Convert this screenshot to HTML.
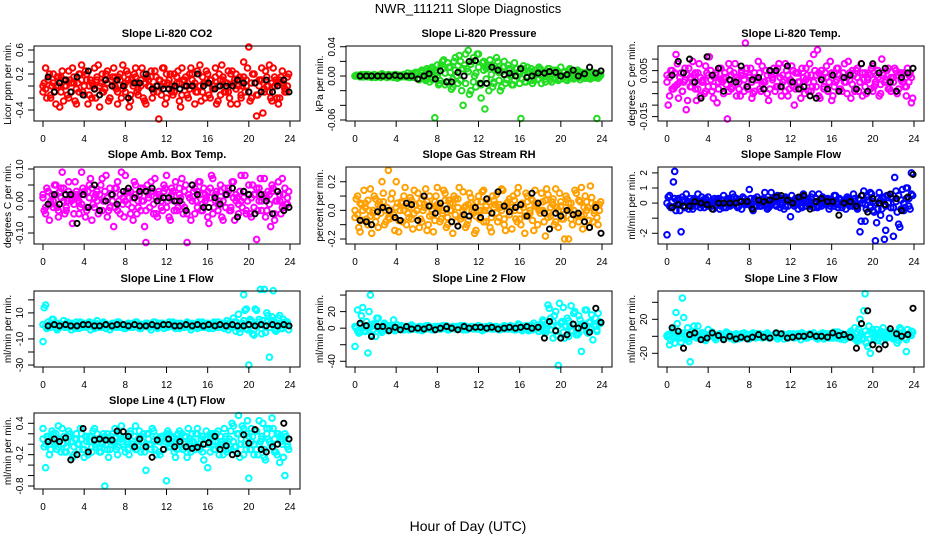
<!DOCTYPE html>
<html><head><meta charset="utf-8"><style>
body{margin:0;background:#fff;}
svg{display:block;font-family:"Liberation Sans",sans-serif;}
</style></head><body>
<svg id="chart" width="936" height="540" viewBox="0 0 936 540">
<rect width="936" height="540" fill="#fff"/>
<text x="468" y="13" text-anchor="middle" font-size="13">NWR_111211  Slope Diagnostics</text>
<text x="468" y="531" text-anchor="middle" font-size="14">Hour of Day (UTC)</text>
</svg>
<script>
const hours = [0,0.25,0.5,0.75,1,1.25,1.5,1.75,2,2.25,2.5,2.75,3,3.25,3.5,3.75,4,4.25,4.5,4.75,5,5.25,5.5,5.75,6,6.25,6.5,6.75,7,7.25,7.5,7.75,8,8.25,8.5,8.75,9,9.25,9.5,9.75,10,10.25,10.5,10.75,11,11.25,11.5,11.75,12,12.25,12.5,12.75,13,13.25,13.5,13.75,14,14.25,14.5,14.75,15,15.25,15.5,15.75,16,16.25,16.5,16.75,17,17.25,17.5,17.75,18,18.25,18.5,18.75,19,19.25,19.5,19.75,20,20.25,20.5,20.75,21,21.25,21.5,21.75,22,22.25,22.5,22.75,23,23.25,23.5,23.75];
const hoursB = [0.12,0.37,0.62,0.87,1.12,1.37,1.62,1.87,2.12,2.37,2.62,2.87,3.12,3.37,3.62,3.87,4.12,4.37,4.62,4.87,5.12,5.37,5.62,5.87,6.12,6.37,6.62,6.87,7.12,7.37,7.62,7.87,8.12,8.37,8.62,8.87,9.12,9.37,9.62,9.87,10.12,10.37,10.62,10.87,11.12,11.37,11.62,11.87,12.12,12.37,12.62,12.87,13.12,13.37,13.62,13.87,14.12,14.37,14.62,14.87,15.12,15.37,15.62,15.87,16.12,16.37,16.62,16.87,17.12,17.37,17.62,17.87,18.12,18.37,18.62,18.87,19.12,19.37,19.62,19.87,20.12,20.37,20.62,20.87,21.12,21.37,21.62,21.87,22.12,22.37,22.62,22.87,23.12,23.37,23.62,23.87];
const refHours = [0.5,1.1,1.6,2.2,2.7,3.3,3.9,4.4,5.0,5.5,6.1,6.7,7.2,7.8,8.3,8.9,9.4,10.0,10.6,11.1,11.7,12.2,12.8,13.3,13.9,14.5,15.0,15.6,16.1,16.7,17.2,17.8,18.4,18.9,19.5,20.0,20.6,21.2,21.7,22.3,22.8,23.4,23.9];
const xTicks = [0,4,8,12,16,20,24];

const co2A = [-0.1,0.3,0.1,-0.2,0.2,-0.3,0.0,0.15,-0.25,0.1,0.25,-0.1,0.05,-0.3,0.2,0.35,-0.15,0.1,0.0,-0.2,0.3,0.1,-0.35,0.2,-0.05,0.25,-0.2,0.0,0.15,-0.3,0.1,0.35,-0.1,0.2,-0.25,0.05,0.3,-0.15,0.0,0.2,-0.3,0.1,0.25,-0.05,0.15,-0.55,0.0,0.3,-0.2,0.1,-0.1,0.2,0.05,-0.25,0.3,0.0,-0.15,0.2,0.1,-0.3,0.25,0.35,-0.1,0.05,0.2,-0.2,0.0,0.3,-0.25,0.1,0.15,-0.1,0.25,-0.3,0.05,0.2,0.0,-0.15,0.4,0.1,0.65,-0.2,0.2,-0.5,0.1,0.3,-0.1,0.0,0.35,-0.25,0.15,0.05,-0.2,0.25,-0.1,0.0];
const co2B = [0.05,-0.2,0.2,0.0,-0.1,0.15,-0.35,0.25,0.0,-0.15,0.1,0.3,-0.25,0.05,0.2,-0.1,0.25,-0.3,0.1,0.0,-0.2,0.35,0.05,-0.1,0.2,-0.25,0.1,0.3,-0.05,0.15,-0.2,0.0,0.25,-0.35,0.1,0.2,-0.1,0.05,0.3,-0.25,0.15,0.0,-0.2,0.25,-0.1,0.1,0.3,-0.3,0.05,0.2,-0.15,0.0,0.25,-0.35,0.1,0.15,-0.2,0.3,0.0,-0.1,0.2,-0.25,0.05,0.25,-0.15,0.1,0.0,-0.3,0.2,0.35,-0.1,0.05,-0.2,0.25,0.1,-0.3,0.15,0.0,-0.1,0.3,-0.25,0.2,0.05,-0.15,0.1,-0.45,0.25,0.0,-0.2,0.3,0.1,-0.3,0.15,0.0,-0.1,0.2];
const co2C = [0.0,-0.05,0.1,-0.15,0.05,0.0,0.15,-0.1,0.1,0.0,-0.2,0.05,0.15,-0.05,-0.1,0.1,0.0,0.2,-0.15,0.05,-0.05,0.15,0.0,-0.1,0.1,0.05,-0.2,0.15,0.0,-0.1,0.2,-0.05,0.05,0.1,-0.15,0.0,0.15,-0.05,0.1,-0.2,0.05,0.0,0.15,-0.1,0.0,0.1,-0.15,0.05,0.2,-0.05,0.0,-0.1,0.15,0.05,-0.15,0.1,0.0,-0.05,0.2,0.05,-0.1,0.0,0.15,-0.2,0.05,0.1,-0.05,0.15,0.0,-0.15,0.1,0.05,-0.1,0.2,0.0,-0.05,0.1,-0.2,0.15,0.0,-0.1,0.05,0.2,-0.15,0.0,0.1,-0.05,0.15,-0.1,0.05,0.0,-0.2,0.1,0.05,-0.05,0.15];
const co2Ref = [0.15,-0.1,0.05,0.1,-0.1,0.15,-0.15,0.25,-0.05,-0.15,0.1,0.0,0.1,0.0,-0.2,0.05,0.05,0.2,-0.05,0.0,-0.05,-0.05,0.0,-0.05,0.0,0.0,0.2,0.0,0.05,-0.05,0.0,0.0,0.0,0.1,0.05,-0.1,0.05,-0.1,0.1,-0.1,0.0,0.1,-0.1];

const presA = [0.0,0.001,-0.001,0.0,0.002,-0.001,0.001,0.0,-0.002,0.001,0.0,0.002,-0.001,0.0,0.001,-0.002,0.002,0.0,-0.001,0.001,0.0,-0.002,0.003,0.0,0.005,-0.005,0.008,-0.003,0.01,-0.008,0.012,-0.057,0.015,-0.01,0.02,-0.012,0.018,0.005,-0.015,0.025,-0.01,0.02,-0.04,0.03,0.035,-0.02,0.025,-0.015,0.03,-0.03,0.02,0.01,-0.02,0.015,-0.01,0.025,0.005,-0.015,0.02,-0.005,0.01,-0.012,0.018,0.0,-0.01,0.01,-0.008,0.012,0.005,-0.01,0.008,-0.005,0.01,0.0,-0.008,0.01,-0.005,0.008,0.002,-0.006,0.012,0.0,-0.005,0.008,0.003,-0.004,0.006,-0.002,0.005,0.0,-0.003,0.004,0.002,-0.002,-0.058,0.003];
const presB = [0.001,0.0,0.002,-0.001,0.0,0.001,-0.002,0.002,0.0,-0.001,0.003,0.0,-0.002,0.001,0.0,0.002,-0.003,0.001,0.0,-0.001,0.004,-0.002,0.0,0.005,-0.004,0.006,0.0,-0.006,0.008,-0.002,0.01,0.004,-0.012,0.015,0.022,-0.008,0.012,-0.018,0.02,0.0,0.028,-0.02,0.015,0.01,-0.025,0.02,0.0,0.03,-0.01,0.018,-0.045,0.012,0.022,-0.015,0.008,0.02,-0.02,0.012,-0.01,0.015,0.0,-0.012,0.01,0.005,-0.058,0.014,-0.008,0.006,0.01,-0.006,0.004,0.012,-0.01,0.006,0.0,0.01,-0.008,0.004,0.008,-0.004,0.0,0.006,-0.006,0.01,0.002,-0.003,0.008,-0.005,0.004,0.002,0.0,-0.004,0.005,0.002,-0.003,0.001];
const presC = [0.0,0.0,0.001,-0.001,0.0,0.002,0.0,-0.001,0.001,0.0,-0.002,0.001,0.0,0.002,-0.001,0.0,0.001,-0.002,0.0,0.002,-0.001,0.0,0.003,-0.002,0.002,-0.003,0.004,0.0,-0.004,0.006,-0.005,0.008,0.0,-0.006,0.01,0.004,-0.008,0.012,-0.004,0.008,0.014,-0.006,0.01,-0.01,0.006,0.016,-0.008,0.004,0.012,-0.012,0.008,-0.004,0.014,0.002,-0.008,0.01,-0.006,0.006,0.012,-0.004,0.008,0.002,-0.006,0.01,0.004,-0.004,0.008,0.0,-0.006,0.006,0.002,-0.004,0.008,0.002,-0.004,0.006,0.0,-0.003,0.006,0.002,-0.004,0.005,0.0,-0.003,0.006,0.001,-0.002,0.004,0.0,-0.003,0.005,0.001,-0.002,0.004,0.0,-0.001];
const presRef = [0.0,0.0,0.0,0.0,0.0,0.0,0.001,0.0,0.0,0.0,-0.004,0.0,0.003,-0.004,0.007,-0.008,-0.008,0.005,0.0,0.02,0.021,-0.01,-0.01,0.012,0.008,0.002,0.004,0.0,0.01,-0.002,0.0,0.004,0.004,0.006,0.005,0.0,0.002,0.008,0.0,0.003,0.012,0.004,0.007];

const tempA = [0.003,-0.006,0.005,-0.002,0.008,0.0,-0.004,0.006,-0.008,0.002,0.009,-0.003,0.004,-0.006,0.001,0.007,-0.002,0.005,-0.007,0.003,0.0,0.006,-0.005,0.002,0.008,-0.003,0.004,-0.006,0.0,0.005,-0.004,0.006,0.002,-0.007,0.004,0.001,-0.003,0.007,0.0,-0.005,0.005,0.002,-0.004,0.006,-0.002,0.003,0.008,-0.006,0.0,0.005,-0.003,0.004,-0.007,0.002,0.006,0.0,-0.004,0.012,0.003,-0.006,0.005,-0.002,0.007,0.0,-0.008,0.004,0.006,-0.003,0.002,0.008,-0.005,0.001,0.005,-0.004,0.006,0.0,-0.006,0.004,0.002,-0.003,0.007,-0.001,0.005,-0.005,0.003,0.0,0.006,-0.004,0.002,0.005,-0.003,0.004,0.0,-0.006,0.003,-0.009];
const tempB = [-0.01,0.005,-0.003,0.012,-0.007,0.004,0.0,-0.012,0.006,-0.002,0.003,-0.008,0.008,0.0,-0.005,0.004,0.011,-0.004,0.002,-0.009,0.006,0.0,0.004,-0.016,0.005,-0.002,0.008,0.001,-0.006,0.003,0.017,-0.003,0.006,-0.005,0.002,0.009,-0.004,0.0,0.005,-0.008,0.003,0.006,-0.002,0.008,-0.006,0.001,0.005,-0.003,0.007,-0.01,0.004,0.0,0.006,-0.005,0.003,0.008,-0.002,0.005,0.014,-0.007,0.002,0.004,-0.004,0.009,-0.006,0.0,0.006,-0.003,0.004,0.0,0.009,-0.007,0.003,0.005,-0.004,0.008,0.001,-0.005,0.004,0.006,-0.002,0.003,-0.006,0.01,0.0,0.005,-0.003,0.002,0.006,-0.005,0.004,0.0,-0.002,0.006,0.004,-0.007];
const tempC = [0.0,0.002,-0.003,0.004,-0.001,0.002,-0.004,0.001,0.003,-0.002,0.0,0.004,-0.003,0.002,0.0,-0.004,0.003,0.001,-0.002,0.004,-0.003,0.001,0.002,-0.001,-0.004,0.003,0.0,0.002,-0.003,0.004,0.001,-0.002,0.003,0.0,-0.004,0.002,0.004,-0.001,0.0,0.003,-0.003,0.001,0.004,-0.002,0.002,0.0,-0.004,0.003,0.001,-0.002,0.004,0.0,-0.003,0.002,0.001,-0.004,0.003,0.0,-0.002,0.004,0.001,-0.003,0.002,0.0,0.004,-0.002,0.001,0.003,-0.004,0.0,0.002,0.004,-0.001,-0.003,0.002,0.0,0.004,-0.002,0.001,0.003,-0.004,0.0,0.002,-0.001,0.004,0.001,-0.003,0.002,0.0,-0.004,0.003,0.001,0.004,-0.002,0.0,0.002];
const tempRef = [0.003,0.009,0.004,0.01,0.0,-0.007,0.011,0.003,0.006,-0.004,0.001,0.0,0.007,-0.002,0.001,0.002,-0.003,0.005,0.005,-0.002,0.007,0.0,-0.003,-0.002,-0.006,-0.007,0.001,-0.003,0.003,-0.004,0.002,0.003,-0.003,0.008,-0.004,0.008,0.004,0.006,0.0,-0.004,0.002,0.004,0.006];

const ambA = [0.02,-0.04,0.03,0.0,-0.02,0.05,-0.05,0.01,0.04,-0.03,0.06,0.0,-0.01,0.03,-0.04,0.09,0.02,-0.02,0.05,-0.06,0.01,0.03,-0.03,0.07,0.0,-0.05,0.04,0.02,-0.02,0.06,-0.04,0.01,0.08,-0.01,0.03,-0.06,0.05,0.0,-0.03,0.04,-0.13,0.02,0.06,-0.04,0.01,0.03,-0.02,0.05,0.08,-0.05,0.02,0.0,-0.03,0.04,0.07,-0.02,-0.13,0.01,0.05,-0.04,0.03,0.06,-0.01,0.02,-0.05,0.04,0.07,0.0,-0.03,0.05,-0.06,0.02,0.03,-0.02,0.06,0.0,-0.04,0.08,0.01,-0.03,0.05,-0.05,0.02,-0.12,0.04,0.0,0.07,-0.03,0.02,0.05,-0.06,0.03,0.0,0.07,-0.02,0.01];
const ambB = [-0.03,0.04,-0.06,0.02,0.05,-0.02,0.03,0.09,-0.04,0.0,0.02,-0.07,0.06,0.01,-0.02,0.04,-0.05,0.03,0.07,-0.01,0.02,-0.04,0.05,0.0,0.08,-0.03,0.02,-0.08,0.04,0.0,0.09,-0.05,0.03,0.01,-0.02,0.06,-0.04,0.02,0.0,-0.08,0.05,-0.02,0.03,0.07,-0.05,0.01,-0.03,0.04,0.0,-0.06,0.03,0.06,-0.02,0.01,-0.04,0.05,0.02,-0.06,0.03,0.0,0.06,-0.03,0.04,0.01,-0.07,0.08,-0.02,0.03,0.0,-0.05,0.04,0.02,-0.03,0.06,-0.06,0.01,0.03,-0.02,0.08,0.0,-0.04,0.05,0.02,-0.03,0.07,0.01,-0.05,0.03,-0.08,0.04,0.0,0.06,-0.04,0.02,-0.01,0.03];
const ambC = [0.01,-0.02,0.03,-0.01,0.0,0.02,-0.03,0.04,0.0,-0.02,0.03,0.01,-0.04,0.02,0.0,-0.01,0.03,-0.03,0.01,0.04,-0.02,0.0,0.02,-0.03,0.03,0.01,-0.02,0.0,0.04,-0.03,0.02,-0.01,0.0,0.03,-0.04,0.01,0.02,-0.02,0.04,0.0,-0.03,0.01,0.03,-0.01,-0.04,0.02,0.0,0.03,-0.02,0.01,0.04,-0.03,0.0,0.02,-0.01,0.03,-0.04,0.01,0.0,0.04,-0.02,0.02,-0.03,0.0,0.03,0.01,-0.04,0.02,-0.01,0.03,0.0,-0.02,0.04,-0.03,0.01,0.02,-0.01,0.0,0.03,-0.04,0.02,0.01,-0.02,0.04,0.0,-0.03,0.02,0.01,-0.01,0.03,-0.04,0.0,0.02,-0.02,0.04,-0.01];
const ambRef = [-0.01,0.02,-0.01,0.02,0.02,-0.07,0.02,-0.02,0.05,-0.03,0.0,0.02,-0.01,0.03,0.04,0.01,0.03,0.03,0.04,0.0,0.01,0.01,0.0,0.0,-0.03,0.05,0.02,-0.02,-0.02,0.01,-0.01,0.02,0.04,-0.05,0.03,0.02,-0.04,0.02,0.0,-0.04,0.03,-0.03,-0.02];

const rhA = [-0.05,0.1,-0.15,0.0,0.05,-0.1,0.15,-0.02,0.08,-0.12,0.03,0.12,-0.08,0.28,0.0,-0.05,0.2,-0.15,0.06,0.1,-0.1,0.02,-0.06,0.14,0.0,-0.12,0.08,0.04,-0.14,0.1,-0.03,0.06,0.16,-0.08,0.0,0.12,-0.1,0.05,-0.16,0.08,0.02,-0.06,0.13,-0.12,0.04,0.09,-0.02,-0.14,0.1,0.0,0.14,-0.08,0.06,-0.15,0.02,0.11,-0.05,0.15,-0.1,0.03,0.08,-0.13,0.0,0.12,-0.06,0.05,-0.16,0.1,-0.02,0.07,0.14,-0.1,0.0,0.06,-0.18,0.11,-0.04,0.08,0.15,-0.12,0.03,-0.06,0.1,-0.2,0.05,0.0,0.12,-0.08,0.16,-0.03,0.06,-0.12,0.09,0.0,-0.05,0.04];
const rhB = [0.08,-0.12,0.04,0.14,-0.06,0.0,-0.16,0.1,-0.04,0.06,0.2,-0.1,0.02,-0.06,0.12,-0.14,0.05,0.0,-0.08,0.16,-0.02,0.09,-0.13,0.04,0.12,-0.06,0.0,0.15,-0.1,0.03,-0.15,0.1,0.02,-0.06,0.14,-0.12,0.07,0.0,0.1,-0.08,0.16,-0.04,0.02,-0.1,0.12,0.0,-0.16,0.06,-0.06,0.13,0.0,0.08,-0.12,0.1,0.04,-0.08,0.02,0.14,-0.14,0.06,0.0,0.1,-0.06,0.16,-0.1,0.02,0.12,-0.04,0.08,-0.14,0.04,0.0,0.12,-0.08,0.15,-0.02,0.06,-0.1,0.02,0.12,-0.06,-0.2,0.08,0.0,-0.1,0.14,-0.04,0.06,-0.13,0.1,0.02,0.17,-0.08,0.04,-0.1,0.06];
const rhC = [0.0,-0.03,0.05,-0.07,0.02,0.07,-0.04,0.0,-0.08,0.04,-0.02,0.06,0.0,-0.05,0.08,-0.03,0.02,-0.07,0.05,0.0,0.03,-0.05,0.07,-0.02,0.0,0.05,-0.08,0.02,0.06,-0.04,0.0,-0.07,0.04,0.03,-0.02,0.07,-0.05,0.0,0.05,-0.03,0.08,-0.06,0.0,0.03,-0.07,0.05,0.02,-0.04,0.0,0.06,-0.08,0.03,0.0,-0.05,0.07,-0.02,0.04,0.0,-0.06,0.05,-0.03,0.02,0.07,-0.08,0.0,0.04,-0.04,0.06,0.0,-0.07,0.03,0.05,-0.02,0.0,0.07,-0.05,0.02,0.04,-0.08,0.0,0.06,-0.03,0.02,0.05,-0.06,0.0,-0.03,0.07,-0.04,0.02,0.0,-0.07,0.05,-0.02,0.03,0.0];
const rhRef = [-0.07,-0.08,-0.1,-0.01,0.02,0.0,-0.05,-0.07,0.05,0.04,-0.07,0.1,0.03,-0.02,0.05,0.01,-0.08,-0.11,-0.03,-0.04,0.02,-0.05,0.08,-0.02,0.13,0.03,-0.01,0.02,0.04,-0.04,0.12,0.05,-0.02,-0.13,-0.02,-0.04,0.0,-0.03,-0.02,-0.08,-0.12,0.02,-0.16];

const sampA = [-2.1,0.5,-0.3,2.1,0.2,-0.5,0.4,-0.2,0.0,0.3,-0.4,0.1,0.6,-0.3,0.2,-0.1,0.4,0.0,-0.4,0.2,0.3,-0.2,0.5,-0.3,0.1,0.0,0.4,-0.2,0.2,-0.4,0.3,0.0,0.9,-0.3,0.1,0.4,-0.2,0.2,0.7,-0.4,0.0,0.3,-0.1,0.5,-0.3,0.2,0.4,-0.2,-0.9,0.1,0.3,-0.4,0.2,0.6,-0.2,0.0,0.4,-0.3,0.1,0.6,-0.2,0.3,0.0,-0.4,0.2,0.5,-0.1,0.3,-0.3,0.2,0.4,0.0,-0.2,0.3,-0.4,-1.9,0.5,-1.2,0.2,0.7,-0.5,-2.5,0.3,-0.8,0.4,-1.8,0.5,-0.3,-2.2,0.8,-1.4,0.2,-0.5,1.0,0.3,2.0];
const sampB = [0.4,-0.3,1.4,-0.5,0.3,-1.9,0.2,0.6,-0.4,0.1,0.3,-0.2,0.0,0.4,-0.3,0.2,0.0,-0.2,0.3,0.1,-0.4,0.2,0.0,0.3,-0.2,0.6,0.1,-0.3,0.2,0.4,-0.1,0.0,0.3,-0.5,0.2,0.1,-0.2,0.3,0.0,-0.3,0.7,0.2,-0.2,0.4,0.0,-0.4,0.3,0.1,0.5,-0.2,0.0,0.2,-0.3,0.4,0.1,-0.2,0.6,0.0,-0.3,0.2,0.4,-0.1,0.3,-0.2,0.0,0.5,-0.3,0.2,0.1,-0.4,0.3,0.0,0.6,-0.2,0.3,-1.2,0.8,-0.4,0.2,0.6,-0.6,-1.3,0.7,-0.4,-2.4,0.5,-1.0,0.3,1.7,-0.6,-1.6,0.9,-0.3,1.0,-0.4,0.5];
const sampC = [0.0,-0.2,0.1,0.3,-0.1,0.0,0.2,-0.3,0.1,0.0,-0.2,0.2,0.1,-0.1,0.0,0.3,-0.2,0.1,0.0,-0.1,0.2,0.0,-0.3,0.1,0.2,-0.1,0.0,0.3,-0.2,0.1,0.0,0.2,-0.1,0.0,0.3,-0.2,0.1,0.0,-0.1,0.2,-0.2,0.0,0.1,0.3,-0.1,0.0,-0.2,0.2,0.1,0.0,-0.1,0.3,-0.2,0.0,0.1,0.2,-0.1,0.0,0.3,-0.2,0.1,0.0,-0.1,0.2,0.0,-0.2,0.1,0.3,-0.1,0.0,0.2,-0.2,0.0,0.1,-0.3,0.2,0.0,-0.1,0.4,-0.3,0.1,0.0,-0.4,0.2,0.3,-0.2,0.0,0.4,-0.3,0.1,0.5,-0.4,0.0,0.3,-0.2,0.6];
const sampRef = [-0.3,-0.1,-0.2,-0.2,0.1,0.0,-0.1,-0.4,0.0,0.0,0.0,0.0,0.1,0.1,-0.4,0.2,0.1,0.2,0.4,0.5,0.2,0.0,0.4,0.5,-0.4,0.1,0.3,0.1,0.1,-0.8,0.0,0.1,-0.2,0.5,-0.6,0.3,0.0,-0.1,0.6,0.3,-0.5,0.4,1.9];

const line1A = [-12,16,3,-1,5,2,-2,1,4,-1,2,-3,1,3,-2,0,2,-1,3,1,-2,4,0,-1,2,1,-3,2,0,3,-1,1,-2,2,0,-1,3,1,-2,0,2,1,-3,3,-1,0,2,-2,1,3,0,-1,2,-2,1,0,3,-1,2,1,-2,0,3,-1,2,0,-2,1,3,-1,0,2,-3,1,6,-4,9,-2,24,13,-30,4,-7,12,3,-6,28,10,-24,7,3,-3,8,-2,2,3];
const line1B = [14,-2,1,5,0,-3,2,1,-1,3,0,2,-2,1,3,-1,0,2,-3,1,2,-1,0,3,-2,1,0,2,-1,3,0,-2,1,2,-1,0,3,-2,1,0,2,-1,1,3,-2,0,2,1,-1,0,3,-2,1,2,-1,0,2,-3,1,0,3,-1,2,0,-2,1,3,-1,0,2,-2,4,1,-1,3,0,-5,2,12,-3,5,-6,13,0,28,4,-5,8,2,27,-4,6,-2,5,1,-3];
const line1C = [1,0,-1,1,2,0,-1,1,0,2,-1,0,1,-1,2,0,1,-1,0,2,-1,1,0,-1,2,0,1,-1,0,1,2,-1,0,1,-1,2,0,-1,1,0,2,-1,1,0,-1,2,0,1,-1,0,2,1,-1,0,1,-1,2,0,1,-1,0,2,-1,1,0,-1,2,0,1,-1,0,1,2,-1,0,3,-2,1,4,-2,0,3,-3,1,5,-2,0,3,-1,4,-3,2,0,-2,3,1];
const line1Ref = [0,1,0,1,0,0,1,1,0,0,1,0,1,1,0,1,0,0,1,0,1,1,0,0,1,0,1,0,1,0,1,0,1,0,0,1,0,1,0,1,0,1,0];

const line2A = [-22,22,-5,25,3,-30,40,5,-10,12,-2,4,1,-3,2,10,-2,1,3,-1,2,-2,4,0,-1,2,-3,1,3,0,-2,2,1,-1,3,0,-2,1,2,-1,0,3,-2,1,0,2,-1,1,3,-2,0,2,1,-1,0,2,-2,1,3,0,-1,2,-2,1,4,-3,2,0,3,-2,1,4,-1,10,-6,28,12,-12,20,-45,6,25,3,-10,27,18,-8,15,-28,5,22,-5,16,2,-4,8];
const line2B = [0,-6,15,-3,8,20,-8,3,12,0,-5,6,-2,3,0,-3,4,1,-2,2,0,3,-1,1,-2,2,0,-1,3,1,-2,0,2,-1,1,3,-2,0,1,2,-1,0,3,-2,1,2,0,-1,2,-3,1,0,3,-1,2,0,-2,1,2,-1,3,0,-2,5,-1,2,3,-3,1,6,0,-4,3,8,-2,24,4,15,-9,30,8,-12,12,2,-3,20,-8,10,5,22,-6,8,-14,12,18,6];
const line2C = [2,-3,4,0,-4,3,1,-2,5,0,-3,2,1,-1,0,2,-1,1,0,-2,1,0,2,-1,1,0,-1,2,0,-1,1,0,2,-1,0,1,-1,0,2,0,-1,1,0,2,-1,0,1,-1,0,2,0,-1,1,0,-1,2,0,1,-1,0,2,-1,0,1,-1,2,0,-2,1,3,-1,0,2,4,-3,6,-2,8,-4,3,6,-5,2,9,-3,4,0,-6,5,2,-4,7,0,3,-2,5];
const line2Ref = [6,3,-10,2,2,-3,1,-2,2,-1,0,-1,1,-2,0,2,0,-2,2,0,1,1,0,1,-1,0,1,0,1,2,0,1,-12,8,-3,-12,-8,5,0,3,-5,24,7];

const line3A = [0,-10,5,-8,15,3,45,-3,10,-30,5,0,12,-2,4,-5,8,1,3,-4,2,0,-3,5,-1,2,-4,3,0,-2,4,1,-3,2,0,-1,3,-2,1,4,-1,0,2,-3,1,3,0,-2,2,-1,0,3,-4,1,2,-1,0,4,-2,1,3,-3,0,2,-1,5,-2,1,3,-4,0,2,-1,10,-6,20,-2,50,-12,-20,8,3,-2,6,10,-3,2,5,-1,4,-5,8,2,-18,3,6];
const line3B = [2,-5,8,28,3,-7,22,0,-6,5,12,-2,1,4,-3,0,2,5,-2,1,3,-1,0,4,-2,1,2,-3,0,3,-1,2,0,4,-2,1,-1,2,3,-2,0,1,4,-1,2,-3,0,3,1,-2,2,0,4,-1,-2,3,1,0,-3,2,4,-1,0,3,-2,1,5,-3,0,2,-1,6,0,-4,8,3,30,-8,12,5,-3,8,2,-6,4,0,6,-2,3,-8,10,4,-2,8,3,5];
const line3C = [1,2,-1,3,0,-2,4,1,-3,2,0,3,-1,1,2,-2,0,3,1,-1,2,0,-2,3,1,0,2,-1,1,3,0,-2,2,1,0,3,-1,1,0,2,-2,1,3,0,-1,2,1,-2,0,3,1,-1,2,0,-2,1,3,0,1,-1,2,0,3,-2,1,0,2,-1,3,0,-2,4,1,-3,5,0,-4,6,2,-3,4,0,-5,3,1,-2,5,0,-3,4,2,-1,3,-4,2,1];
const line3Ref = [10,6,-14,2,4,-4,-2,4,1,-4,0,-3,-1,-3,-1,2,-1,-2,4,3,-2,-1,0,0,2,0,0,-1,4,1,2,-1,-14,15,30,-10,-15,-10,9,3,0,2,33];

const line4A = [0.3,-0.45,0.1,-0.1,0.2,0.0,0.35,-0.15,0.15,-0.05,0.25,0.05,-0.2,0.1,-0.1,0.2,-0.25,0.05,0.15,-0.05,0.3,0.0,-0.15,0.1,-0.8,0.2,-0.1,0.05,0.3,-0.2,0.1,0.0,0.15,-0.1,0.25,-0.05,0.35,0.05,-0.15,0.2,-0.5,0.1,0.0,0.25,-0.2,0.05,0.15,-0.1,-0.7,0.2,0.0,-0.15,0.1,0.25,-0.05,0.15,-0.25,0.05,0.2,-0.1,0.3,0.0,-0.15,0.1,-0.45,0.2,0.05,-0.1,0.25,0.0,-0.2,0.15,0.05,-0.1,0.35,-0.05,0.55,0.1,-0.2,0.2,-0.65,0.3,0.0,-0.1,0.45,0.15,-0.25,0.3,0.05,0.5,-0.15,0.2,-0.35,0.1,-0.6,0.0];
const line4B = [-0.05,0.15,-0.2,0.25,0.0,-0.1,0.1,0.3,-0.15,0.05,0.2,-0.25,0.1,0.0,0.3,-0.1,0.15,-0.2,0.05,0.25,-0.05,0.1,-0.15,0.2,0.0,-0.25,0.15,0.05,-0.1,0.2,0.35,-0.05,0.1,-0.2,0.0,0.15,-0.1,0.25,0.05,-0.15,0.2,0.0,0.3,-0.1,0.1,-0.2,0.15,0.05,0.25,-0.05,0.1,-0.25,0.2,0.0,-0.1,0.15,0.3,-0.15,0.05,0.2,-0.05,0.1,-0.3,0.25,0.0,0.15,-0.1,0.2,-0.2,0.05,0.3,-0.15,0.1,0.4,-0.05,0.2,-0.25,0.35,0.0,0.45,-0.1,0.15,0.25,-0.2,0.05,0.4,-0.3,0.1,0.0,0.3,-0.15,0.2,0.05,-0.25,0.15,-0.1];
const line4C = [0.1,0.0,0.15,-0.1,0.05,0.2,-0.05,0.1,0.0,-0.15,0.15,0.05,-0.05,0.2,0.0,0.1,-0.1,0.15,0.05,-0.15,0.1,0.2,-0.05,0.0,0.15,-0.1,0.05,0.2,0.0,-0.05,0.15,0.1,-0.15,0.05,0.2,0.0,-0.1,0.1,0.15,-0.05,0.0,0.2,-0.1,0.05,0.15,-0.15,0.1,0.0,0.2,-0.05,0.15,0.05,-0.1,0.1,0.2,0.0,-0.15,0.1,0.05,-0.05,0.2,-0.1,0.15,0.0,0.1,-0.15,0.2,0.05,-0.05,0.15,0.0,0.1,-0.1,0.25,0.05,-0.15,0.2,0.0,0.3,-0.1,0.15,0.05,-0.2,0.25,0.0,0.1,-0.1,0.2,0.3,-0.05,0.1,-0.2,0.15,0.0,0.2,-0.05];
const line4Ref = [0.05,0.1,0.05,0.12,-0.3,-0.2,0.3,-0.15,0.08,0.1,0.08,0.08,0.25,0.24,0.15,-0.05,0.1,-0.05,-0.25,0.08,-0.1,0.1,-0.05,0.05,-0.05,-0.08,-0.06,0.0,0.03,0.15,-0.1,-0.03,-0.2,-0.18,0.18,0.02,0.28,-0.1,-0.15,-0.05,0.0,0.4,0.1];

const panelTitles = ["Slope Li-820 CO2","Slope Li-820 Pressure","Slope Li-820 Temp.","Slope Amb. Box Temp.","Slope Gas Stream RH","Slope Sample Flow","Slope Line 1 Flow","Slope Line 2 Flow","Slope Line 3 Flow","Slope Line 4 (LT) Flow"];
const yTitles = ["Licor ppm per min.","kPa per min.","degrees C per min.","degrees C per min.","percent per min.","ml/min per min.","ml/min per min.","ml/min per min.","ml/min per min.","ml/min per min."];
const yTickVals = [[-0.4,-0.2,0,0.2,0.4,0.6],[-0.06,-0.04,-0.02,0,0.02,0.04],[-0.015,-0.01,-0.005,0,0.005,0.01],[-0.1,-0.05,0,0.05,0.1],[-0.2,-0.1,0,0.1,0.2],[-2,-1,0,1,2],[-30,-20,-10,0,10,20],[-40,-20,0,20,40],[-20,0,20,40],[-0.8,-0.6,-0.4,-0.2,0,0.2,0.4]];
const yTickLabels = [["-0.4","","","0.2","","0.6"],["-0.06","","","0.00","","0.04"],["-0.015","","","","0.005",""],["-0.10","","0.00","","0.10"],["-0.2","","0.0","","0.2"],["-2","","0","1","2"],["-30","","-10","","10",""],["-40","","0","20",""],["-20","","20",""],["-0.8","","","-0.2","","","0.4"]];
const yDomains = [[-0.583,0.667],[-0.0614,0.041],[-0.0169,0.0157],[-0.1344,0.1062],[-0.235,0.303],[-2.71,2.39],[-31.5,26.8],[-46.9,44.9],[-36.1,53.3],[-0.857,0.597]];
const seriesA = [co2A,presA,tempA,ambA,rhA,sampA,line1A,line2A,line3A,line4A];
const seriesB = [co2B,presB,tempB,ambB,rhB,sampB,line1B,line2B,line3B,line4B];
const seriesC = [co2C,presC,tempC,ambC,rhC,sampC,line1C,line2C,line3C,line4C];
const seriesRef = [co2Ref,presRef,tempRef,ambRef,rhRef,sampRef,line1Ref,line2Ref,line3Ref,line4Ref];
const colors = ["#ff0000","#22dd22","#ff00ff","#ff00ff","#ffa000","#0000ff","#00ffff","#00ffff","#00ffff","#00ffff"];

const NS = "http://www.w3.org/2000/svg";
const svg = document.getElementById("chart");
const colLeft = [34,346,658], rowTop = [46,167,291,413], rowBot = [121,244,367,489], W = 266;
function mk(tag, attrs, parent){const e=document.createElementNS(NS,tag);for(const k in attrs)e.setAttribute(k,attrs[k]);parent.appendChild(e);return e;}

for (let p = 0; p < 10; p++) {
  const left = colLeft[p % 3], top = rowTop[Math.floor(p/3)], bot = rowBot[Math.floor(p/3)];
  const [lo, hi] = yDomains[p];
  const xs = h => left + 9 + h * (247/24);
  const ys = v => bot - (v - lo) / (hi - lo) * (bot - top);
  const g = mk("g", {}, svg);
  
  
  const t = mk("text", {x: left + W/2, y: top - 9, "text-anchor": "middle", "font-size": 11, "font-weight": "bold"}, g);
  t.textContent = panelTitles[p];
  
  
  const cg = mk("g", {fill: "none", stroke: colors[p], "stroke-width": 2}, g);
  
  
  [[seriesA[p], hours], [seriesB[p], hoursB], [seriesC[p], hours]].forEach(([vals, hs]) => {
    for (let i = 0; i < vals.length && i < hs.length; i++) {
      const c = mk("circle", {cx: xs(hs[i]).toFixed(1), cy: ys(vals[i]).toFixed(1), r: 2.8}, cg);
      
      
    }
  });
  const bg = mk("g", {fill: "none", stroke: "#000", "stroke-width": 1.9}, g);
  
  
  const rv = seriesRef[p];
  for (let i = 0; i < rv.length && i < refHours.length; i++) {
    const c = mk("circle", {cx: xs(refHours[i]).toFixed(1), cy: ys(rv[i]).toFixed(1), r: 2.6}, bg);
    
    
  }
  const box = mk("rect", {x: left, y: top, width: W, height: bot - top, fill: "none", stroke: "#000", "stroke-width": 1}, g);
  
  
  xTicks.forEach(h => {
    mk("line", {x1: xs(h), x2: xs(h), y1: bot, y2: bot + 6, stroke: "#000"}, g);
    const tl = mk("text", {x: xs(h), y: bot + 21, "text-anchor": "middle", "font-size": 10}, g);
    tl.textContent = h;
    
    
  });
  yTickVals[p].forEach((v, i) => {
    const y = ys(v);
    mk("line", {x1: left - 6, x2: left, y1: y, y2: y, stroke: "#000"}, g);
    if (yTickLabels[p][i]) {
      const yl = mk("text", {x: 0, y: 0, "text-anchor": "middle", "font-size": 10, transform: `translate(${left-11},${y}) rotate(-90)`}, g);
      yl.textContent = yTickLabels[p][i];
      
      
    }
  });
  const yt = mk("text", {x: 0, y: 0, "text-anchor": "middle", "font-size": 10, transform: `translate(${left-23},${(top+bot)/2}) rotate(-90)`}, g);
  yt.textContent = yTitles[p];
  
  
}
</script>
</body></html>
